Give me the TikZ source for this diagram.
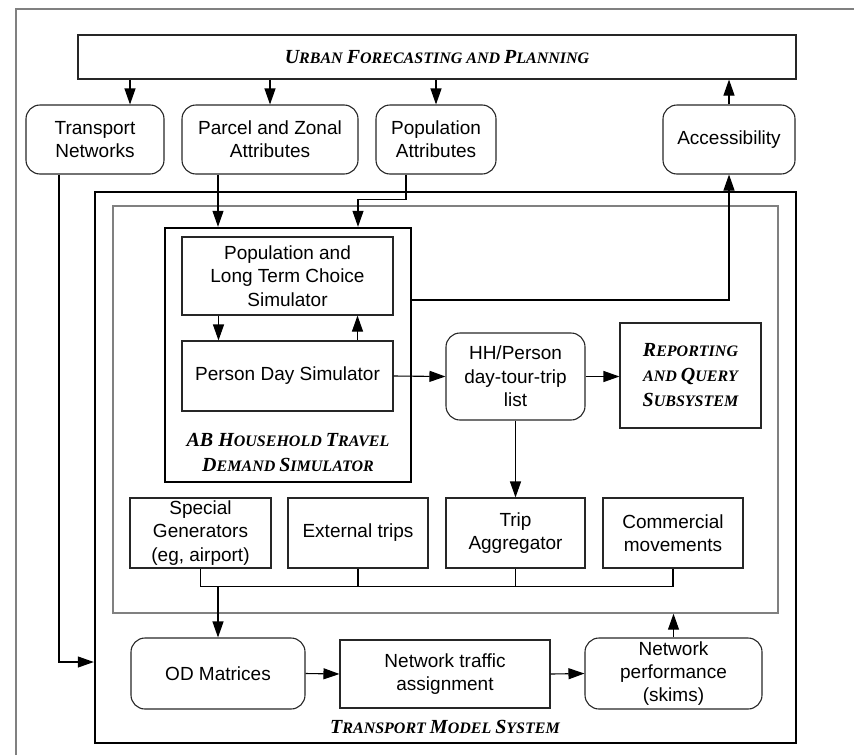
\documentclass[tikz,border=0pt]{standalone}
\usepackage{fontspec}
\setmainfont{Liberation Sans}
\newfontfamily\ttlfont{Liberation Serif}
\usetikzlibrary{arrows.meta,calc}
\newcommand\fsc[2]{{\fontsize{10}{12}\selectfont #1}{\fontsize{8}{12}\selectfont #2}}
\newcommand\sml[1]{{\fontsize{8}{12}\selectfont #1}}

\begin{document}
\begin{tikzpicture}[x=0.5pt,y=-0.5pt,>={Triangle[length=8pt,width=5.5pt]},
  bx/.style={draw=black!85,line width=0.55pt,inner sep=0pt,align=center,
    font=\fontsize{9.5}{11.7}\selectfont},
  rbx/.style={bx,rounded corners=7pt},
  hv/.style={draw,line width=1.2pt,inner sep=0pt},
  ttl/.style={inner sep=0pt,align=center,
    font=\ttlfont\bfseries\itshape\fontsize{8}{12.5}\selectfont},
  fl/.style={->,line width=0.55pt}]
  \useasboundingbox (0,0) rectangle (854,755);
  \draw[gray,line width=0.6pt] (16,755) |- (854,9);

  \node[bx,ttl,draw=black!85,minimum width=359pt,minimum height=22pt] (urban) at (437,57)
    {\fsc{U}{RBAN} \fsc{F}{ORECASTING} AND \fsc{P}{LANNING}};
  \node[rbx,minimum width=69pt,minimum height=34.5pt] (tnet) at (95,139.5) {Transport\\Networks};
  \node[rbx,minimum width=88pt,minimum height=34.5pt] (parcel) at (270,139.5) {Parcel and Zonal\\Attributes};
  \node[rbx,minimum width=60pt,minimum height=34.5pt] (popattr) at (436,139.5) {Population\\Attributes};
  \node[rbx,minimum width=66pt,minimum height=34.5pt] (access) at (729,139.5) {Accessibility};

  \node[hv,minimum width=350.5pt,minimum height=275.5pt] (tms) at (445.5,467.5) {};
  \node[draw=gray,line width=0.7pt,minimum width=332.5pt,minimum height=203.5pt] (inner) at (445.5,409.5) {};
  \node[hv,minimum width=123pt,minimum height=127pt] (ab) at (288,355) {};

  \node[bx,minimum width=105.5pt,minimum height=39pt] (poplt) at (287.5,276)
    {Population and\\Long Term Choice\\Simulator};
  \node[bx,minimum width=105.5pt,minimum height=35pt] (pday) at (287.5,376) {Person Day Simulator};
  \node[ttl] (ablbl) at (288,452.5) {\fsc{AB H}{OUSEHOLD} \fsc{T}{RAVEL}\\\fsc{D}{EMAND} \fsc{S}{IMULATOR}};
  \node[rbx,minimum width=69.5pt,minimum height=43.5pt] (hh) at (515.5,376.5) {HH/Person\\day-tour-trip\\list};
  \node[bx,ttl,draw=black!85,minimum width=70.5pt,minimum height=52.5pt] (report) at (690.5,375.5)
    {\fsc{R}{EPORTING}\\AND \fsc{Q}{UERY}\\\fsc{S}{UBSYSTEM}};

  \node[bx,minimum width=70.5pt,minimum height=35pt] (special) at (200.5,533) {Special\\Generators\\(eg, airport)};
  \node[bx,minimum width=70pt,minimum height=35pt] (external) at (358,533) {External trips};
  \node[bx,minimum width=69.5pt,minimum height=35pt] (trip) at (515.5,533) {Trip\\Aggregator};
  \node[bx,minimum width=70pt,minimum height=35pt] (commercial) at (673,533) {Commercial\\movements};

  \node[rbx,minimum width=87pt,minimum height=35.5pt] (od) at (218,673.5) {OD Matrices};
  \node[bx,minimum width=105pt,minimum height=34pt] (nta) at (445,674) {Network traffic\\assignment};
  \node[rbx,minimum width=88.5pt,minimum height=35.5pt] (np) at (673.5,673.5) {Network\\performance\\(skims)};
  \node[ttl] (tmslbl) at (445,727) {\fsc{T}{RANSPORT} \fsc{M}{ODEL} \fsc{S}{YSTEM}};

  \coordinate (tnetin) at ($(tnet.north)+(35,0)$);
  \coordinate (tnetout) at ($(tnet.south)+(-36,0)$);
  \coordinate (tmsin) at ($(tms.west)+(0,194.5)$);
  \coordinate (parcelout) at ($(parcel.south)+(-52,0)$);
  \coordinate (popout) at ($(popattr.south)+(-30,0)$);
  \coordinate (popin) at ($(ab.north)+(70,0)$);
  \coordinate (bus) at ($(special.south)+(0,18)$);

  \draw[fl] (tnetin |- urban.south) -- (tnetin);
  \draw[fl] (parcel.north |- urban.south) -- (parcel.north);
  \draw[fl] (popattr.north |- urban.south) -- (popattr.north);
  \draw[fl] (access.north) -- (access.north |- urban.south);
  \draw[fl] (tnetout) |- (tmsin);
  \draw[fl] (parcelout) -- (parcelout |- ab.north);
  \draw[fl] (popout) |- ($(popin)+(0,-27)$) -- (popin);
  \draw[fl] ($(ab.east)+(0,-55)$) -| (access.south);
  \draw[fl] ($(poplt.south)+(-69,0)$) -- ($(pday.north)+(-69,0)$);
  \draw[fl] ($(pday.north)+(70,0)$) -- ($(poplt.south)+(70,0)$);
  \draw[fl] (pday.east) -- (hh.west);
  \draw[fl] (hh.east) -- (hh.east -| report.west);
  \draw[fl] (hh.south) -- (trip.north);
  \draw[line width=0.55pt] (special.south) |- (bus -| commercial.south) -- (commercial.south);
  \draw[line width=0.55pt] (external.south) -- (external.south |- bus);
  \draw[line width=0.55pt] (trip.south) -- (trip.south |- bus);
  \draw[fl] (od.north |- bus) -- (od.north);
  \draw[fl] (od.east) -- (nta.west);
  \draw[fl] (nta.east) -- (np.west);
  \draw[fl] (np.north) -- (np.north |- inner.south);
\end{tikzpicture}
\end{document}
